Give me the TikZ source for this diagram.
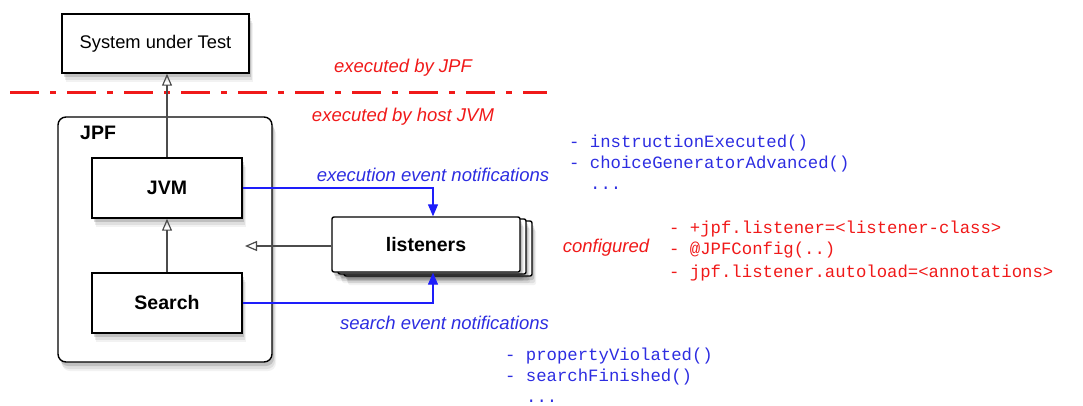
\documentclass[tikz,border=0pt]{standalone}
\usepackage{fontspec}
\setmainfont{Liberation Sans}
\setmonofont{Liberation Mono}
\usetikzlibrary{arrows.meta,shadows}
\definecolor{jred}{RGB}{240,25,25}
\definecolor{jblue}{RGB}{45,45,225}
\definecolor{jline}{RGB}{30,30,250}
\begin{document}
\begin{tikzpicture}[x=1pt,y=-1pt,
  softshadow/.style={
    general shadow={fill=black,opacity=.05,shadow xshift=4pt,shadow yshift=-9pt},
    general shadow={fill=black,opacity=.08,shadow xshift=3pt,shadow yshift=-7pt},
    general shadow={fill=black,opacity=.14,shadow xshift=2pt,shadow yshift=-4pt}},
  box/.style={draw=black,line width=1.4pt,fill=white,softshadow,inner sep=0pt,
    font=\fontsize{18.3}{22}\selectfont},
  bbox/.style={box,font=\fontsize{19.5}{23}\selectfont\bfseries},
  gconn/.style={draw=black!70,line width=1.5pt,-{Triangle[open,length=12pt,width=10pt,line width=1.2pt]}},
  bconn/.style={draw=jline,line width=1.3pt,-{Triangle[length=12pt,width=10pt]}},
  rlabel/.style={text=jred,font=\fontsize{18.5}{22}\selectfont\itshape,inner sep=0pt},
  blabel/.style={text=jblue,font=\fontsize{18.5}{22}\selectfont\itshape,inner sep=0pt},
  bmono/.style={text=jblue,font=\fontsize{17.3}{20}\selectfont\ttfamily,anchor=base west,inner sep=0pt},
  rmono/.style={text=jred,font=\fontsize{17.3}{20}\selectfont\ttfamily,anchor=base west,inner sep=0pt}]
\useasboundingbox (0,0) rectangle (1083,405);

% separator
\draw[jred,line width=3pt,dash pattern=on 29pt off 11pt on 6pt off 11pt] (10,92) -- (547,92);
\node[rlabel] (ejpf) at (403,68) {executed by JPF};
\node[rlabel] (ehost) at (403,117) {executed by host JVM};

% system under test
\node[box,minimum width=187pt,minimum height=59pt] (sut) at (155.5,43.5) {System under Test};

% JPF container
\node[box,rounded corners=8pt,minimum width=214pt,minimum height=245pt] (jpf) at (165,239.5) {};
\node[inner sep=0pt,font=\fontsize{19.5}{23}\selectfont\bfseries,anchor=west] (jpflbl) at (80,133) {JPF};

\node[bbox,minimum width=150pt,minimum height=60pt] (jvm) at (167,188) {JVM};
\node[bbox,minimum width=150pt,minimum height=60pt] (search) at (167,303) {Search};

% listeners stack
\node[box,rounded corners=2pt,minimum width=188pt,minimum height=55pt] (lst3) at (438,248.5) {};
\node[box,rounded corners=2pt,minimum width=188pt,minimum height=55pt] (lst2) at (432,246.5) {};
\node[bbox,rounded corners=2pt,minimum width=188pt,minimum height=55pt] (lst) at (426,244.5) {listeners};

% connectors
\draw[gconn] (jvm.north) -- (jvm.north |- sut.south);
\draw[gconn] (search.north) -- (jvm.south);
\coordinate (ltgt) at (245,246);
\draw[gconn] (lst.west |- ltgt) -- (ltgt);

\draw[bconn] (jvm.east) -| ([xshift=7pt]lst.north);
\draw[bconn] (search.east) -| ([xshift=7pt]lst.south);

\node[blabel] (exn) at (433,175) {execution event notifications};
\node[blabel] (sen) at (444.5,323) {search event notifications};

% listener methods
\node[bmono] (m1) at (569,147) {- instructionExecuted()};
\node[bmono] (m2) at (569,168) {- choiceGeneratorAdvanced()};
\node[bmono] (m3) at (590,189) {...};

\node[rlabel] (cfg) at (606,248) {configured};
\node[rmono] (c1) at (669,233) {- +jpf.listener=<listener-class>};
\node[rmono] (c2) at (669,254) {- @JPFConfig(..)};
\node[rmono] (c3) at (669,277) {- jpf.listener.autoload=<annotations>};

\node[bmono] (s1) at (505,360) {- propertyViolated()};
\node[bmono] (s2) at (505,381) {- searchFinished()};
\node[bmono] (s3) at (526,402) {...};
\end{tikzpicture}
\end{document}
